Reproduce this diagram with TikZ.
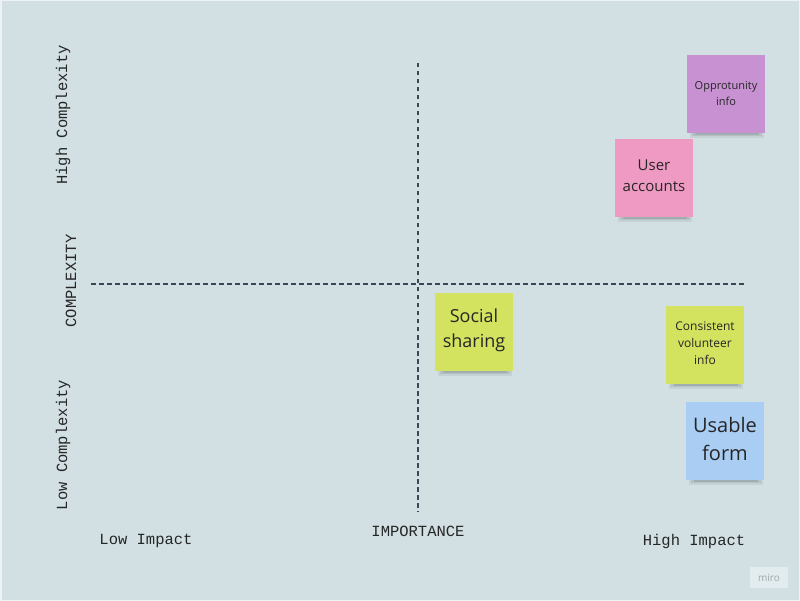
\documentclass[tikz,border=0pt]{standalone}
\usepackage{fontspec}
\setmainfont{Open Sans}
\newfontfamily\monof{Liberation Mono}
\begin{document}
\begin{tikzpicture}[x=1pt,y=-1pt,
  sticky/.style={minimum width=78pt,minimum height=78pt,inner sep=3pt,align=center,text=black!85,anchor=center},
  axis/.style={draw=axiscol,line width=1.1pt,dash pattern=on 4.5pt off 3.5pt},
  lab/.style={font=\monof\fontsize{15.5}{17}\selectfont,text=black!85}]
\definecolor{bg}{HTML}{D2E0E3}
\definecolor{axiscol}{HTML}{3A4756}
\definecolor{cpurple}{HTML}{C791D2}
\definecolor{cpink}{HTML}{EF9AC2}
\definecolor{cyel}{HTML}{D3E35F}
\definecolor{cblue}{HTML}{AACDF4}
\useasboundingbox (0,0) rectangle (800,601);
\fill[bg] (0,0) rectangle (800,601);
\draw[white!60!bg,line width=1.5pt] (0.75,0.75) rectangle (799.25,600.25);
% axes
\coordinate (vt) at (418,63);
\coordinate (vb) at (418,512);
\coordinate (hl) at (91,284);
\coordinate (hr) at (747,284);
\draw[axis] (vt) -- (vb);
\draw[axis] (hl) -- (hr);
% shadows
\foreach \x/\y in {687/55,615/139,435/293,666/306,686/402}{
  \fill[black,opacity=0.06] (\x+3,\y+72) rectangle (\x+77,\y+83);
  \fill[black,opacity=0.08] (\x+5,\y+75) rectangle (\x+75,\y+81);
  \fill[black,opacity=0.10] (\x+8,\y+77) rectangle (\x+72,\y+80);
}
% stickies
\node[sticky,fill=cpurple,font=\fontsize{11}{15}\selectfont] (opp) at (726,94) {\raisebox{2pt}{\shortstack{Opprotunity\\[2pt]info}}};
\node[sticky,fill=cpink,font=\fontsize{15}{21}\selectfont] (user) at (654,178) {};
\node[font=\fontsize{15}{21}\selectfont,align=center,text=black!85] (usertxt) at (user.center) [yshift=2pt] {User\\accounts};
\node[sticky,fill=cyel,font=\fontsize{18}{25}\selectfont] (social) at (474,332) {};
\node[font=\fontsize{18}{25}\selectfont,align=center,text=black!85] (socialtxt) at (social.center) [yshift=2pt] {Social\\sharing};
\node[sticky,fill=cyel,font=\fontsize{12}{17}\selectfont] (cons) at (705,345) {};
\node[font=\fontsize{12}{17}\selectfont,align=center,text=black!85] (constxt) at (cons.center) [yshift=2pt] {Consistent\\volunteer\\info};
\node[sticky,fill=cblue,font=\fontsize{20}{28}\selectfont] (usable) at (725,441) {};
\node[font=\fontsize{20}{28}\selectfont,align=center,text=black!85] (usabletxt) at (usable.center) [yshift=2.5pt] {Usable\\form};
% labels
\node[lab] (low) at (146,541) {Low Impact};
\node[lab] (imp) at (418,531) {IMPORTANCE};
\node[lab] (high) at (694,541) {High Impact};
\node[lab,rotate=90] (hc) at (63,115) {High Complexity};
\node[lab,rotate=90] (cx) at (71,281) {COMPLEXITY};
\node[lab,rotate=90] (lc) at (63,445) {Low Complexity};
% miro mark
\fill[white!35!bg] (750,567) rectangle (788,588);
\node[font=\fontsize{10}{12}\selectfont,text=black!25!bg] (miro) at (769,577.5) {miro};
\end{tikzpicture}
\end{document}
